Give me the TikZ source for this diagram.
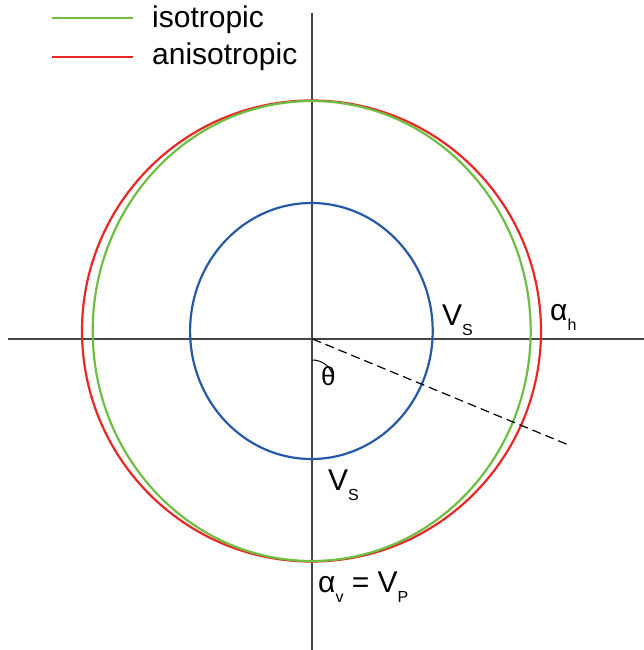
\documentclass[tikz,border=0pt]{standalone}
\usepackage{fontspec}
\setmainfont{Liberation Sans}
\definecolor{isogreen}{RGB}{110,190,68}
\definecolor{anired}{RGB}{232,40,38}
\definecolor{vsblue}{RGB}{40,88,168}
\definecolor{axisgray}{RGB}{70,70,70}
\newcommand{\lbl}{\fontsize{30}{36}\selectfont}
\newcommand{\subl}[1]{\raisebox{-10pt}{\fontsize{16}{18}\selectfont #1}}
\begin{document}
\begin{tikzpicture}[x=1pt,y=-1pt,
  axisline/.style={draw=axisgray,line width=1.3pt},
  curve/.style={line width=2.2pt},
  txt/.style={inner sep=0pt,anchor=base west,font=\lbl},
  legline/.style={line width=2.2pt}]
\useasboundingbox (0,0) rectangle (644,650);
% axes
\coordinate (hl) at (8,339);
\coordinate (hr) at (644,339);
\coordinate (vt) at (312,13);
\coordinate (vb) at (312,650);
\coordinate (o) at (312.5,339);
\draw[axisline] (hl) -- (hr);
\draw[axisline] (vt) -- (vb);
% curves
\draw[curve,draw=anired] (311.5,331) ellipse [x radius=229.5, y radius=230.5];
\draw[curve,draw=isogreen] (311.7,331) ellipse [x radius=219, y radius=230];
\draw[curve,draw=vsblue] (311.4,331) ellipse [x radius=121.3, y radius=128];
% dashed ray
\coordinate (d) at (571,446);
\draw[black,line width=1.2pt,dash pattern=on 9pt off 5pt] (o) -- (d);
% angle arc
\draw[black,line width=1pt] (312.5,360) arc[start angle=-90, end angle=-22.5, radius=21];
% labels
\node[txt] (vs1) at (442,325) {V\subl{S}};
\node[txt] (ah) at (550,320) {α\subl{h}};
\node[txt] (vs2) at (328,490) {V\subl{S}};
\node[txt] (avp) at (318,592) {α\subl{v} = V\subl{P}};
\node[txt,font=\fontsize{26}{30}\selectfont] (th) at (321,385) {θ};
% legend
\coordinate (g1) at (52,18);
\coordinate (g2) at (133,18);
\coordinate (r1) at (52,57);
\coordinate (r2) at (133,57);
\draw[legline,draw=isogreen] (g1) -- (g2);
\draw[legline,draw=anired] (r1) -- (r2);
\node[txt] (liso) at (152,28) {isotropic};
\node[txt] (lani) at (152,65) {anisotropic};
\end{tikzpicture}
\end{document}
